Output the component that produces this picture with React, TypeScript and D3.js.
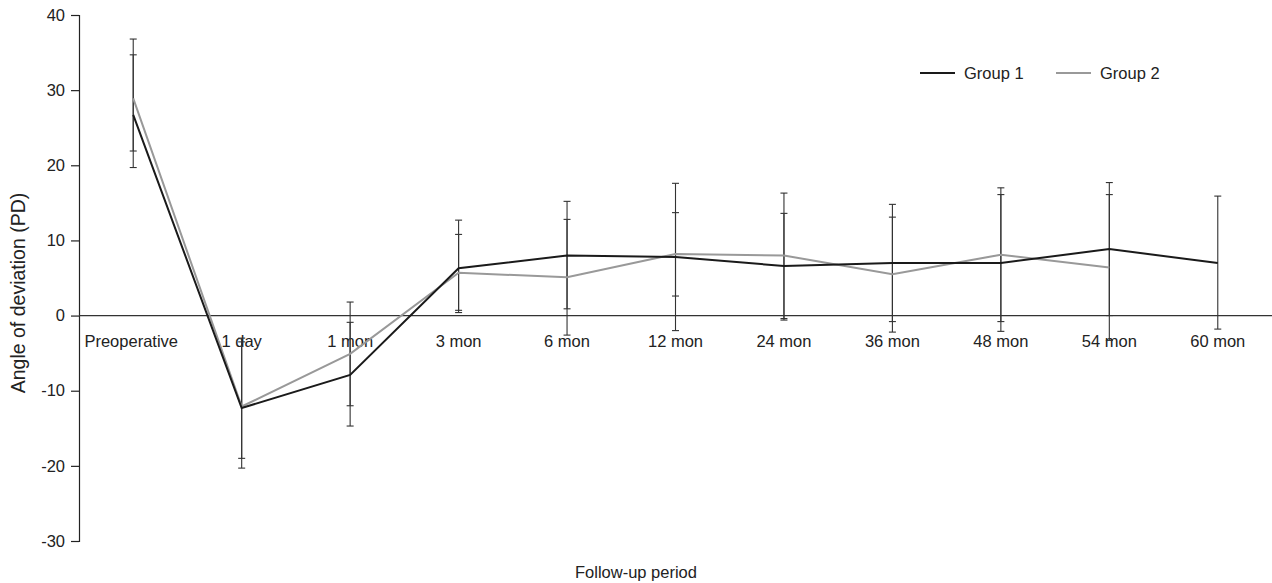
import React, { useEffect, useRef } from "react";
import * as d3 from "d3";

const periods = [
  "Preoperative", "1 day", "1 mon", "3 mon", "6 mon", "12 mon",
  "24 mon", "36 mon", "48 mon", "54 mon", "60 mon",
];

// Group 1: mean and error-bar ends
const group1Mean = [26.7, -12.3, -7.9, 6.3, 8.0, 7.8, 6.6, 7.0, 7.0, 8.85, 7.0];
const group1Hi = [34.7, -3.5, -0.9, 12.7, 15.2, 17.6, 13.6, 14.8, 16.1, 17.7, 15.9];
const group1Lo = [19.7, -20.3, -14.7, 0.4, 0.9, -2.0, -0.6, -0.8, -2.1, 0.0, -1.8];

// Group 2 (no 60 mon)
const group2Mean = [28.9, -12.1, -5.1, 5.7, 5.1, 8.2, 8.0, 5.5, 8.1, 6.4];
const group2Hi = [36.8, -3.0, 1.8, 10.8, 12.8, 13.7, 16.3, 13.1, 17.0, 16.1];
const group2Lo = [21.9, -19.0, -12.0, 0.7, -2.6, 2.6, -0.4, -2.2, -0.8, -3.3];

const yTicks = [-30, -20, -10, 0, 10, 20, 30, 40];

export default function App() {
  const svgRef = useRef<SVGSVGElement>(null);

  useEffect(() => {
    const svg = d3.select(svgRef.current);
    svg.selectAll("*").remove();
    const font = "Liberation Sans, Arial, Helvetica, sans-serif";
    const fs = 16.5;

    const x = d3.scaleBand().domain(periods).range([79, 1272]);
    const cx = (p: string) => (x(p) as number) + x.bandwidth() / 2;
    const y = d3.scaleLinear().domain([-30, 40]).range([541, 15]);

    // y axis
    const yAxis = svg.append("g")
      .attr("transform", "translate(79,0)")
      .call(
        d3.axisLeft(y).tickValues(yTicks).tickSize(8).tickPadding(6)
          .tickFormat((d) => String(d))
      );
    yAxis.select(".domain").attr("stroke", "#222").attr("stroke-width", 1.2);
    yAxis.selectAll(".tick line").attr("stroke", "#222").attr("stroke-width", 1.2);
    yAxis.selectAll(".tick text")
      .attr("font-size", fs).attr("font-family", font).attr("fill", "#222");

    // zero baseline
    svg.append("line")
      .attr("x1", 79).attr("x2", 1272)
      .attr("y1", y(0)).attr("y2", y(0))
      .attr("stroke", "#333").attr("stroke-width", 1.2);

    // category labels
    svg.append("g").selectAll("text").data(periods).enter().append("text")
      .attr("x", (d) => cx(d) - (d === "Preoperative" ? 2 : 0))
      .attr("y", y(0) + 31)
      .attr("text-anchor", "middle")
      .attr("font-size", fs).attr("font-family", font).attr("fill", "#222")
      .text((d) => d);

    const series = [
      { mean: group1Mean, hi: group1Hi, lo: group1Lo, color: "#1a1a1a" },
      { mean: group2Mean, hi: group2Hi, lo: group2Lo, color: "#999999" },
    ];

    // error bars
    series.forEach((s) => {
      const g = svg.append("g");
      s.mean.forEach((_, i) => {
        const px = cx(periods[i]);
        g.append("line").attr("x1", px).attr("x2", px)
          .attr("y1", y(s.hi[i])).attr("y2", y(s.lo[i]))
          .attr("stroke", "#333").attr("stroke-width", 1.1);
        [s.hi[i], s.lo[i]].forEach((v) => {
          g.append("line").attr("x1", px - 3.5).attr("x2", px + 3.5)
            .attr("y1", y(v)).attr("y2", y(v))
            .attr("stroke", "#333").attr("stroke-width", 1.1);
        });
      });
    });

    // lines
    const line = d3.line<number>()
      .x((_, i) => cx(periods[i]))
      .y((d) => y(d));
    [...series].reverse().forEach((s) => {
      svg.append("path").datum(s.mean)
        .attr("d", line)
        .attr("fill", "none")
        .attr("stroke", s.color)
        .attr("stroke-width", 2);
    });

    // legend
    const legend = [
      { label: "Group 1", color: "#1a1a1a", x: 920 },
      { label: "Group 2", color: "#999999", x: 1056 },
    ];
    legend.forEach((l) => {
      svg.append("line").attr("x1", l.x).attr("x2", l.x + 35)
        .attr("y1", 73).attr("y2", 73)
        .attr("stroke", l.color).attr("stroke-width", 2);
      svg.append("text").attr("x", l.x + 44).attr("y", 79)
        .attr("font-size", fs).attr("font-family", font).attr("fill", "#222")
        .text(l.label);
    });

    // axis titles
    svg.append("text")
      .attr("transform", `translate(25,293) rotate(-90)`)
      .attr("text-anchor", "middle")
      .attr("font-size", 19.5).attr("font-family", font).attr("fill", "#222")
      .text("Angle of deviation (PD)");
    svg.append("text")
      .attr("x", 636).attr("y", 578)
      .attr("text-anchor", "middle")
      .attr("font-size", fs).attr("font-family", font).attr("fill", "#222")
      .text("Follow-up period");
  }, []);

  return (
    <svg
      ref={svgRef}
      width={1272}
      height={583}
      style={{ position: "absolute", left: 0, top: 0, background: "#fff" }}
    />
  );
}
